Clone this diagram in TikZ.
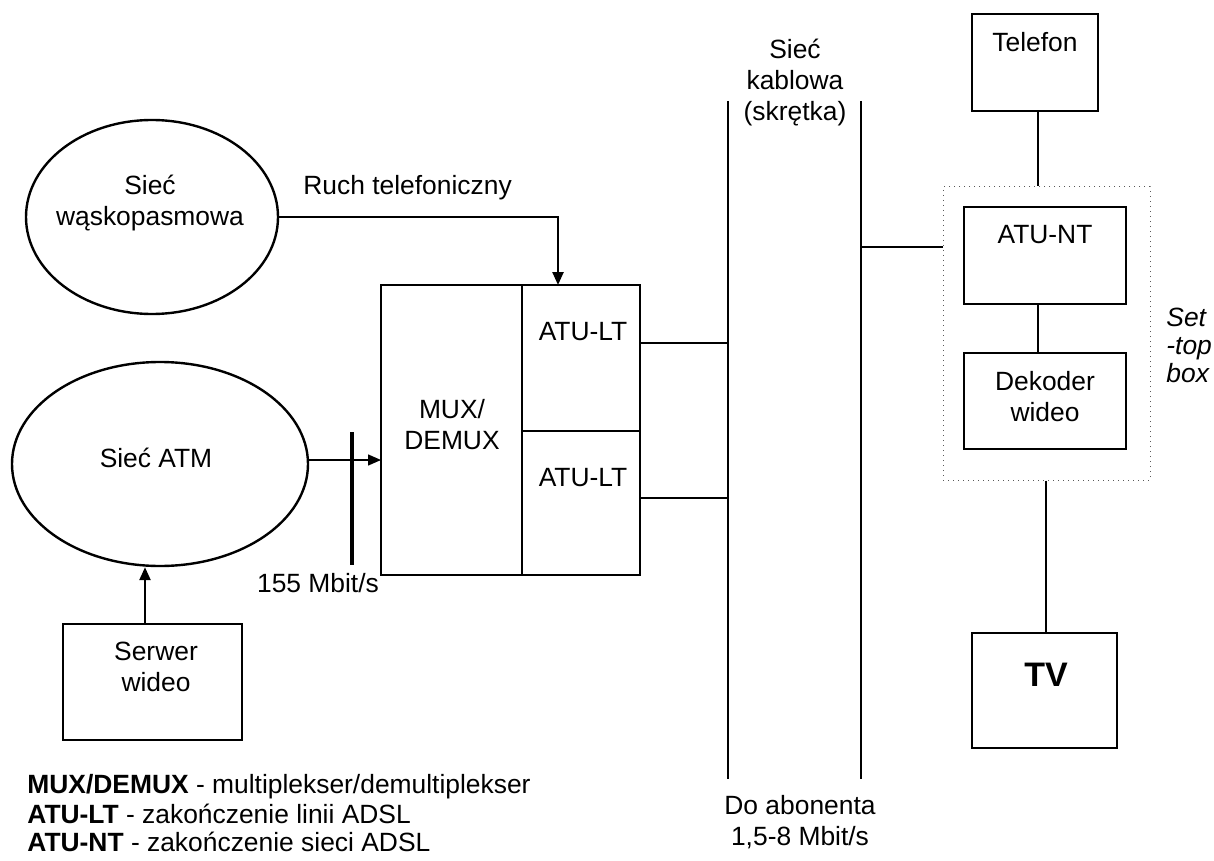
\documentclass[tikz,border=0pt]{standalone}
\usepackage{fontspec}
\setmainfont{Liberation Sans}
\usetikzlibrary{arrows.meta,shapes.geometric}
\begin{document}
\begin{tikzpicture}[x=0.5pt,y=-0.5pt,
  font=\fontsize{13.2}{15.5}\selectfont,
  boxn/.style={draw, line width=1.2pt, rectangle, inner sep=0pt, anchor=center},
  ell/.style={draw, line width=1.2pt, ellipse, inner sep=0pt},
  txt/.style={align=center, inner sep=0pt},
  conn/.style={line width=1.2pt},
  thin/.style={line width=0.7pt},
  tip/.style={-{Triangle[length=6.5pt,width=5.5pt]}}
]
\useasboundingbox (0,0) rectangle (1214,861);

% ellipses
\node[ell, minimum width=126pt, minimum height=97pt] (nb) at (152,217) {};
\node[txt] (nbt) at (150,203) {Sieć\\wąskopasmowa};
\node[ell, minimum width=148pt, minimum height=102pt] (atm) at (160,464) {};
\node[txt] (atmt) at (156,458) {Sieć ATM};

% server
\node[boxn, minimum width=89.5pt, minimum height=58pt] (srv) at (152.5,682) {};
\node[txt] (srvt) at (156,667) {Serwer\\wideo};

% MUX block
\node[boxn, minimum width=70.5pt, minimum height=145pt] (mux) at (451.5,430) {};
\node[boxn, minimum width=59pt, minimum height=73pt] (atu1) at (581,358) {};
\node[boxn, minimum width=59pt, minimum height=72pt] (atu2) at (581,503) {};
\node[txt] (muxt) at (452,425) {MUX/\\DEMUX};
\node[txt] (atu1t) at (583,332) {ATU-LT};
\node[txt] (atu2t) at (583,478) {ATU-LT};

% texts
\node[txt, anchor=west] (ruch) at (303,188) {Ruch telefoniczny};
\node[txt] (mbit) at (318,583) {155 Mbit/s};
\node[txt] (kab) at (795,83) {Sieć\\kablowa\\(skrętka)};
\node[txt] (abo) at (800,822) {Do abonenta\\1,5-8 Mbit/s};

% cable lines
\coordinate (c1t) at (728,101);
\coordinate (c1b) at (728,779);
\coordinate (c2t) at (861,101);
\coordinate (c2b) at (861,779);
\draw[conn] (c1t) -- (c1b);
\draw[conn] (c2t) -- (c2b);

% set-top box
\node[draw, dotted, line width=0.5pt, gray!70!black, rectangle, inner sep=0pt,
      minimum width=103.5pt, minimum height=146.5pt] (stb) at (1046.5,333.5) {};
\node[boxn, minimum width=81pt, minimum height=48.5pt] (atunt) at (1045,255.5) {};
\node[txt] (atuntt) at (1045,235) {ATU-NT};
\node[boxn, minimum width=81pt, minimum height=48pt] (dek) at (1045,401) {};
\node[txt] (dekt) at (1045,397) {Dekoder\\wideo};
\node[txt, align=left, anchor=west, font=\fontsize{13.2}{14}\selectfont\itshape] (stbt) at (1166,345) {Set\\-top\\box};

\node[boxn, minimum width=63pt, minimum height=48.5pt] (tel) at (1035,62.5) {};
\node[txt] (telt) at (1035,42) {Telefon};
\node[boxn, minimum width=72.5pt, minimum height=57.5pt] (tv) at (1044.5,690.5) {};
\node[txt, font=\fontsize{17}{20}\selectfont\bfseries] (tvt) at (1046,675) {TV};

% connectors
\coordinate (ruchend) at (558,285);
\draw[conn, tip] (nb.east) -| (ruchend);
\coordinate (muxin) at (381,460);
\draw[thin, tip] (atm.east |- muxin) -- (muxin);
\coordinate (bart) at (352,432);
\coordinate (barb) at (352,565);
\draw[line width=2.2pt] (bart) -- (barb);
\coordinate (srvtop) at (145,624);
\draw[conn, tip] (srvtop) -- (srvtop |- atm.south);

\draw[conn] (atu1.east |- 0,343) -- (c1t |- 0,343);
\draw[conn] (atu2.east |- 0,498) -- (c1t |- 0,498);
\draw[conn] (c2t |- 0,247) -- (stb.west |- 0,247);
\draw[conn] (1038,0 |- tel.south) -- (1038,0 |- stb.north);
\draw[conn] (1038,0 |- atunt.south) -- (1038,0 |- dek.north);
\draw[conn] (1046,0 |- stb.south) -- (1046,0 |- tv.north);

% legend
\node[txt, anchor=west] (l1) at (27,787) {\textbf{MUX/DEMUX} - multiplekser/demultiplekser};
\node[txt, anchor=west] (l2) at (27,814) {\textbf{ATU-LT} - zakończenie linii ADSL};
\node[txt, anchor=west] (l3) at (27,842) {\textbf{ATU-NT} - zakończenie sieci ADSL};
\end{tikzpicture}
\end{document}
